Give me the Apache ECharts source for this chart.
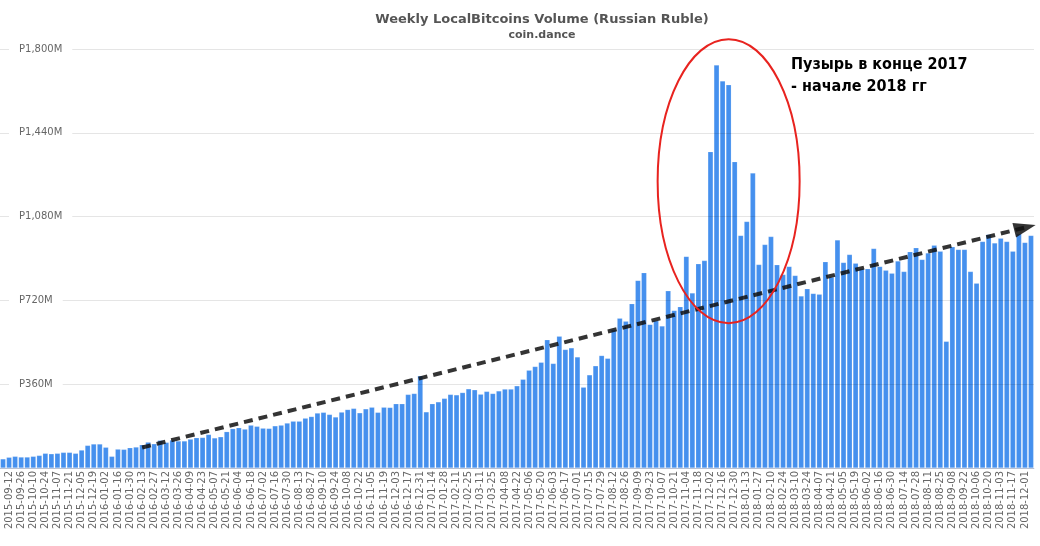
<!DOCTYPE html>
<html>
<head>
<meta charset="utf-8">
<script src="https://cdn.jsdelivr.net/npm/echarts@6/dist/echarts.min.js"></script>
<style>
html,body{margin:0;padding:0;background:#fff;}
#chart{width:1040px;height:546px;}
</style>
</head>
<body>
<div id="chart"></div>
<script>
// First week shown
var startWeek = '2015-09-05';
var weekCount = 171;

// Weekly volume, millions of RUB, from 2015-09-05 to 2018-12-08
var volume = [
  39, 46, 50, 47, 47, 50, 54, 63, 61, 63,
  67, 67, 63, 77, 97, 103, 103, 89, 50, 81,
  80, 87, 90, 100, 111, 104, 119, 110, 120, 116,
  116, 124, 130, 131, 144, 129, 134, 156, 169, 173,
  167, 184, 179, 171, 170, 181, 184, 193, 201, 201,
  214, 221, 236, 239, 230, 219, 240, 251, 256, 237,
  254, 261, 239, 261, 260, 276, 276, 316, 320, 396,
  241, 276, 284, 299, 316, 314, 324, 340, 336, 317,
  329, 320, 331, 339, 339, 353, 381, 420, 436, 454,
  551, 449, 566, 509, 516, 477, 347, 400, 439, 483,
  471, 594, 643, 630, 706, 806, 839, 617, 633, 610,
  761, 677, 693, 909, 752, 877, 891, 1359, 1731, 1663,
  1646, 1316, 999, 1059, 1267, 874, 960, 994, 873, 831,
  866, 827, 739, 770, 750, 746, 886, 820, 980, 883,
  917, 880, 856, 856, 943, 866, 849, 837, 889, 844,
  929, 946, 896, 924, 957, 931, 544, 950, 939, 939,
  844, 794, 973, 1003, 967, 987, 973, 931, 1006, 969,
  999
];

// y-axis ticks (millions)
var yTicks = [0, 360, 720, 1080, 1440, 1800];

// Trend arrow ends: [category index, value in millions]
var trendStart = [23, 88];
var trendEnd = [169, 1033];

// Bubble ellipse centre: [category index, value]
var bubbleCentre = [120, 1232];

var titleText = 'Weekly LocalBitcoins Volume (Russian Ruble)';
var subText = 'coin.dance';
var noteLines = ['Пузырь в конце 2017', '- начале 2018 гг'];

function pad(n){ return n < 10 ? '0' + n : '' + n; }
var categories = [];
(function(){
  var p = startWeek.split('-');
  var t = Date.UTC(+p[0], +p[1] - 1, +p[2]);
  for (var i = 0; i < weekCount; i++) {
    var d = new Date(t + i * 7 * 86400000);
    categories.push(d.getUTCFullYear() + '-' + pad(d.getUTCMonth() + 1) + '-' + pad(d.getUTCDate()));
  }
})();

var chart = echarts.init(document.getElementById('chart'), null, {renderer: 'canvas'});
var FONT = '"DejaVu Sans", Verdana, sans-serif';

var yBase = {
  type: 'value',
  min: yTicks[0],
  max: yTicks[yTicks.length - 1],
  interval: yTicks[1] - yTicks[0],
  axisLine: {show: false},
  axisTick: {show: false}
};

chart.setOption({
  animation: false,
  backgroundColor: '#fff',
  title: {
    text: titleText,
    subtext: subText,
    left: 537,
    textAlign: 'center',
    top: 8,
    itemGap: 4,
    textStyle: {fontFamily: FONT, fontSize: 13, fontWeight: 'bold', color: '#555'},
    subtextStyle: {fontFamily: FONT, fontSize: 11, fontWeight: 'bold', color: '#555'}
  },
  grid: {left: 0, right: 6, top: 49, bottom: 78, containLabel: false},
  xAxis: {
    type: 'category',
    data: categories,
    axisTick: {show: false},
    axisLine: {lineStyle: {color: '#ccd6eb'}},
    axisLabel: {
      rotate: 90,
      interval: function(i){ return i % 2 === 1; },
      margin: 3,
      fontFamily: FONT,
      fontSize: 10,
      color: '#666'
    }
  },
  yAxis: [
    Object.assign({}, yBase, {
      position: 'left',
      axisLabel: {show: false},
      splitLine: {lineStyle: {color: 'rgba(0,0,0,0.1)', width: 1}},
      z: 3
    }),
    Object.assign({}, yBase, {
      position: 'left',
      splitLine: {show: false},
      axisLabel: {
        inside: true,
        margin: 9,
        showMinLabel: false,
        fontFamily: FONT,
        fontSize: 10,
        color: '#666',
        backgroundColor: '#fff',
        padding: [2, 10, 2, 10],
        formatter: function(v){ return 'P' + v.toLocaleString('en-US') + 'M'; }
      },
      z: 4
    })
  ],
  series: [{
    type: 'bar',
    data: volume,
    yAxisIndex: 0,
    barCategoryGap: '12%',
    itemStyle: {color: '#4590ee', borderColor: 'rgba(255,255,255,0.35)', borderWidth: 0.5},
    z: 2,
    markLine: {
      silent: true,
      symbol: ['none', 'triangle'],
      symbolSize: [15, 22],
      label: {show: false},
      lineStyle: {color: '#111', width: 4, type: [9, 6], opacity: 0.85},
      data: [[
        {coord: trendStart},
        {coord: trendEnd}
      ]],
      z: 10
    }
  }]
});

var c = chart.convertToPixel({seriesIndex: 0}, bubbleCentre);
chart.setOption({
  graphic: [
    {
      type: 'ellipse',
      shape: {cx: c[0], cy: c[1], rx: 71, ry: 142},
      style: {fill: 'none', stroke: '#e8231f', lineWidth: 2},
      z: 20
    },
    {
      type: 'text',
      left: 791,
      top: 54,
      style: {
        text: noteLines.join('\n'),
        fontFamily: '"DejaVu Sans Condensed", "DejaVu Sans", sans-serif',
        fontSize: 16,
        fontWeight: 'bold',
        lineHeight: 22,
        fill: '#000'
      },
      z: 20
    }
  ]
});
</script>
</body>
</html>
